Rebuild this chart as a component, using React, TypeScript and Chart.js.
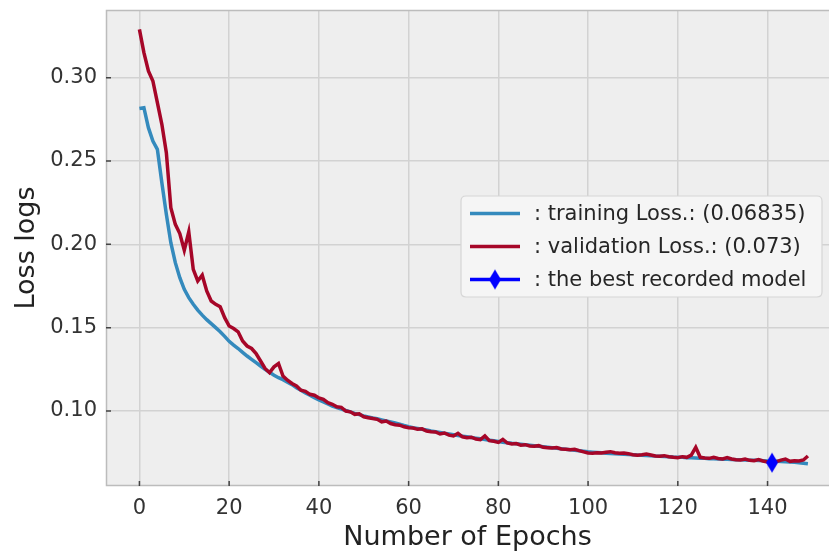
import React, { useEffect, useRef } from "react";
import { Chart, registerables } from "chart.js";

Chart.register(...registerables);

const trainingLoss = [
  0.2815, 0.2820, 0.2700, 0.2620, 0.2570, 0.2370, 0.2180, 0.2010, 0.1890, 0.1800,
  0.1730, 0.1680, 0.1640, 0.1605, 0.1575, 0.1548, 0.1524, 0.1500, 0.1476, 0.1448,
  0.1418, 0.1395, 0.1375, 0.1352, 0.1330, 0.1310, 0.1290, 0.1270, 0.1250, 0.1232,
  0.1215, 0.1200, 0.1188, 0.1172, 0.1158, 0.1140, 0.1124, 0.1108, 0.1095, 0.1080,
  0.1066, 0.1055, 0.1042, 0.1030, 0.1021, 0.1012, 0.1003, 0.0995, 0.0986, 0.0978,
  0.0970, 0.0964, 0.0958, 0.0953, 0.0947, 0.0941, 0.0935, 0.0928, 0.0921, 0.0913,
  0.0906, 0.0900, 0.0895, 0.0890, 0.0886, 0.0880, 0.0876, 0.0871, 0.0866, 0.0862,
  0.0858, 0.0853, 0.0849, 0.0845, 0.0841, 0.0837, 0.0833, 0.0829, 0.0825, 0.0821,
  0.0817, 0.0813, 0.0810, 0.0806, 0.0803, 0.0800, 0.0797, 0.0794, 0.0791, 0.0788,
  0.0785, 0.0782, 0.0779, 0.0776, 0.0773, 0.0770, 0.0767, 0.0764, 0.0761, 0.0758,
  0.0755, 0.0753, 0.0751, 0.0749, 0.0747, 0.0745, 0.0744, 0.0742, 0.0741, 0.0739,
  0.0738, 0.0736, 0.0735, 0.0733, 0.0732, 0.0730, 0.0729, 0.0727, 0.0726, 0.0724,
  0.0723, 0.0722, 0.0720, 0.0719, 0.0718, 0.0717, 0.0716, 0.0714, 0.0713, 0.0712,
  0.0711, 0.0710, 0.0709, 0.0708, 0.0707, 0.0706, 0.0705, 0.0704, 0.0703, 0.0702,
  0.0700, 0.0699, 0.0698, 0.0697, 0.0695, 0.0694, 0.0692, 0.0690, 0.0687, 0.06835,
];

const validationLoss = [
  0.3290, 0.3150, 0.3040, 0.2980, 0.2850, 0.2720, 0.2550, 0.2220, 0.2120, 0.2065,
  0.1965, 0.2075, 0.1850, 0.1780, 0.1815, 0.1720, 0.1660, 0.1640, 0.1625, 0.1560,
  0.1510, 0.1495, 0.1475, 0.1420, 0.1390, 0.1375, 0.1345, 0.1300, 0.1255, 0.1230,
  0.1265, 0.1285, 0.1210, 0.1185, 0.1165, 0.1150, 0.1125, 0.1118, 0.1100, 0.1095,
  0.1078, 0.1070, 0.1050, 0.1040, 0.1025, 0.1022, 0.1000, 0.0995, 0.0980, 0.0983,
  0.0965, 0.0960, 0.0955, 0.0950, 0.0935, 0.0940, 0.0925, 0.0918, 0.0915, 0.0905,
  0.0900, 0.0898, 0.0890, 0.0893, 0.0880, 0.0876, 0.0874, 0.0862, 0.0868, 0.0855,
  0.0850, 0.0866, 0.0845, 0.0840, 0.0843, 0.0832, 0.0828, 0.0850, 0.0822, 0.0818,
  0.0812, 0.0830, 0.0808, 0.0802, 0.0805, 0.0795, 0.0798, 0.0790, 0.0788, 0.0792,
  0.0782, 0.0780, 0.0778, 0.0781, 0.0772, 0.0770, 0.0768, 0.0770, 0.0762, 0.0755,
  0.0748, 0.0746, 0.0750, 0.0748, 0.0752, 0.0756, 0.0750, 0.0746, 0.0748, 0.0744,
  0.0738, 0.0735, 0.0738, 0.0742, 0.0736, 0.0730, 0.0728, 0.0732, 0.0726, 0.0722,
  0.0720, 0.0726, 0.0722, 0.0735, 0.0782, 0.0722, 0.0718, 0.0716, 0.0722, 0.0715,
  0.0712, 0.0720, 0.0712, 0.0708, 0.0706, 0.0712, 0.0704, 0.0702, 0.0708, 0.0700,
  0.0694, 0.0690, 0.0696, 0.0705, 0.0712, 0.0698, 0.0702, 0.0700, 0.0706, 0.0730,
];

const bestEpoch = [141];
const bestValue = [0.069];

const xTicks = [0, 20, 40, 60, 80, 100, 120, 140];
const yTicks = [0.1, 0.15, 0.2, 0.25, 0.3];

const legendLabels = [
  ": training Loss.: (0.06835)",
  ": validation Loss.: (0.073)",
  ": the best recorded model",
];

const BLUE = "#348ABD";
const RED = "#A60628";
const MARK = "#0000FF";
const FONT = '"DejaVu Sans", sans-serif';

function makeDiamond(): HTMLCanvasElement {
  const c = document.createElement("canvas");
  c.width = 14;
  c.height = 22;
  const g = c.getContext("2d")!;
  g.fillStyle = MARK;
  g.beginPath();
  g.moveTo(7, 1);
  g.lineTo(13, 11);
  g.lineTo(7, 21);
  g.lineTo(1, 11);
  g.closePath();
  g.fill();
  return c;
}

export default function App() {
  const ref = useRef<HTMLCanvasElement | null>(null);

  useEffect(() => {
    if (!ref.current) return;
    const diamond = makeDiamond();

    const bgPlugin = {
      id: "bgPlugin",
      beforeDraw(chart: any) {
        const { ctx, chartArea: a } = chart;
        ctx.save();
        ctx.fillStyle = "#eeeeee";
        ctx.fillRect(a.left, a.top, a.right - a.left, a.bottom - a.top);
        ctx.restore();
      },
    };

    const framePlugin = {
      id: "framePlugin",
      afterDatasetsDraw(chart: any) {
        const { ctx, chartArea: a, scales } = chart;
        ctx.save();
        // frame (left, top, bottom)
        ctx.strokeStyle = "#bcbcbc";
        ctx.lineWidth = 1.5;
        ctx.beginPath();
        ctx.moveTo(a.right + 2, a.top + 0.5);
        ctx.lineTo(a.left + 0.5, a.top + 0.5);
        ctx.lineTo(a.left + 0.5, a.bottom - 0.5);
        ctx.lineTo(a.right + 2, a.bottom - 0.5);
        ctx.stroke();
        // inward ticks
        ctx.strokeStyle = "#444";
        ctx.lineWidth = 1.5;
        ctx.beginPath();
        for (const v of xTicks) {
          const px = scales.x.getPixelForValue(v);
          ctx.moveTo(px, a.bottom);
          ctx.lineTo(px, a.bottom - 5);
        }
        for (const v of yTicks) {
          const py = scales.y.getPixelForValue(v);
          ctx.moveTo(a.left, py);
          ctx.lineTo(a.left + 5, py);
        }
        ctx.stroke();

        // legend
        const bx = 461, by = 196, bw = 361, bh = 101, r = 5;
        ctx.fillStyle = "#f5f5f5";
        ctx.strokeStyle = "#d6d6d6";
        ctx.lineWidth = 1.2;
        ctx.beginPath();
        ctx.moveTo(bx + r, by);
        ctx.lineTo(bx + bw - r, by);
        ctx.quadraticCurveTo(bx + bw, by, bx + bw, by + r);
        ctx.lineTo(bx + bw, by + bh - r);
        ctx.quadraticCurveTo(bx + bw, by + bh, bx + bw - r, by + bh);
        ctx.lineTo(bx + r, by + bh);
        ctx.quadraticCurveTo(bx, by + bh, bx, by + bh - r);
        ctx.lineTo(bx, by + r);
        ctx.quadraticCurveTo(bx, by, bx + r, by);
        ctx.closePath();
        ctx.fill();
        ctx.stroke();

        const rows = [213.5, 246.5, 279.5];
        const cols = [BLUE, RED, MARK];
        ctx.lineWidth = 3.5;
        rows.forEach((ry, i) => {
          ctx.strokeStyle = cols[i];
          ctx.beginPath();
          ctx.moveTo(470, ry);
          ctx.lineTo(520, ry);
          ctx.stroke();
          if (i === 2) {
            ctx.drawImage(diamond, 495 - 7, ry - 11);
          }
          ctx.fillStyle = "#262626";
          ctx.font = `21px ${FONT}`;
          ctx.textBaseline = "middle";
          ctx.textAlign = "left";
          ctx.fillText(legendLabels[i], 534, ry + 1);
        });
        ctx.restore();
      },
    };

    const chart = new Chart(ref.current, {
      type: "line",
      data: {
        datasets: [
          {
            label: legendLabels[0],
            data: trainingLoss.map((v, i) => ({ x: i, y: v })),
            borderColor: BLUE,
            backgroundColor: BLUE,
            borderWidth: 3.5,
            pointRadius: 0,
            tension: 0,
            order: 3,
          },
          {
            label: legendLabels[1],
            data: validationLoss.map((v, i) => ({ x: i, y: v })),
            borderColor: RED,
            backgroundColor: RED,
            borderWidth: 3.5,
            pointRadius: 0,
            tension: 0,
            order: 2,
          },
          {
            label: legendLabels[2],
            data: bestEpoch.map((e, i) => ({ x: e, y: bestValue[i] })),
            borderColor: MARK,
            backgroundColor: MARK,
            showLine: false,
            pointStyle: diamond as any,
            pointRadius: 10,
            order: 1,
          },
        ],
      },
      options: {
        animation: false,
        responsive: true,
        maintainAspectRatio: false,
        devicePixelRatio: 1,
        layout: { autoPadding: false, padding: { top: 10, right: 0, left: 0, bottom: 0 } },
        plugins: {
          legend: { display: false },
          tooltip: { enabled: false },
        },
        scales: {
          x: {
            type: "linear",
            min: -7.45,
            max: 153.7,
            afterBuildTicks(scale: any) {
              scale.ticks = xTicks.map((v) => ({ value: v }));
            },
            afterFit(scale: any) {
              scale.height = 65;
              scale.paddingLeft = 0;
              scale.paddingRight = 0;
            },
            grid: {
              color: "#d2d2d2",
              lineWidth: 1.5,
              drawTicks: false,
            },
            border: { display: false },
            ticks: {
              padding: 10,
              color: "#333",
              font: { family: FONT, size: 21 },
              maxRotation: 0,
              autoSkip: false,
              callback: (v: any) => String(v),
            },
            title: {
              display: true,
              text: "Number of Epochs",
              color: "#222",
              font: { family: FONT, size: 27, lineHeight: 1 },
              padding: { top: 0, bottom: 0 },
            },
          },
          y: {
            type: "linear",
            min: 0.055,
            max: 0.3406,
            afterBuildTicks(scale: any) {
              scale.ticks = yTicks.map((v) => ({ value: v }));
            },
            afterFit(scale: any) {
              scale.width = 106;
              scale.paddingTop = 0;
              scale.paddingBottom = 0;
            },
            grid: {
              color: "#d2d2d2",
              lineWidth: 1.5,
              drawTicks: false,
            },
            border: { display: false },
            ticks: {
              padding: 9,
              color: "#333",
              font: { family: FONT, size: 21 },
              callback: (v: any) => Number(v).toFixed(2),
            },
            title: {
              display: true,
              text: "Loss logs",
              color: "#222",
              font: { family: FONT, size: 27, lineHeight: 1 },
              padding: { top: 13, bottom: 0 },
            },
          },
        },
      },
      plugins: [bgPlugin, framePlugin],
    });

    return () => chart.destroy();
  }, []);

  return (
    <div style={{ position: "fixed", left: 0, top: 0, width: 829, height: 551, background: "#fff" }}>
      <canvas ref={ref} />
    </div>
  );
}
